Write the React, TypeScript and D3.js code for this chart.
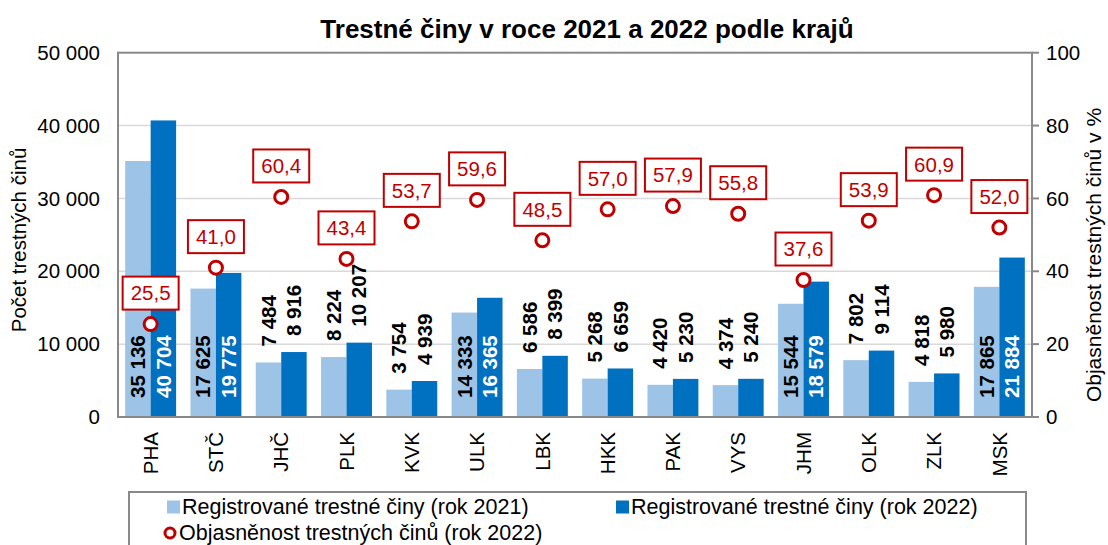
import React, { useEffect, useRef } from 'react'
import * as d3 from 'd3'

const regions = ['PHA', 'STČ', 'JHČ', 'PLK', 'KVK', 'ULK', 'LBK', 'HKK', 'PAK', 'VYS', 'JHM', 'OLK', 'ZLK', 'MSK']
const crimes2021 = [35136, 17625, 7484, 8224, 3754, 14333, 6586, 5268, 4420, 4374, 15544, 7802, 4818, 17865]
const crimes2022 = [40704, 19775, 8916, 10207, 4939, 16365, 8399, 6659, 5230, 5240, 18579, 9114, 5980, 21884]
const clearance2022 = [25.5, 41.0, 60.4, 43.4, 53.7, 59.6, 48.5, 57.0, 57.9, 55.8, 37.6, 53.9, 60.9, 52.0]
const leftTicks = [0, 10000, 20000, 30000, 40000, 50000]
const rightTicks = [0, 20, 40, 60, 80, 100]

const W = 1108
const H = 545
const FONT = '"Liberation Sans", Arial, sans-serif'
const LIGHT = '#9DC3E6'
const DARK = '#0070C0'
const RED = '#C00000'

const cz = d3.formatLocale({ decimal: ',', thousands: ' ', grouping: [3], currency: ['', ''] })
const fmtInt = cz.format(',d')
const fmtPct = cz.format('.1f')

function App() {
  const ref = useRef<SVGSVGElement>(null)

  useEffect(() => {
    const svg = d3.select(ref.current)
    svg.selectAll('*').remove()

    const left = 118, right = 1032, top = 52.7, bottom = 417

    const x = d3.scaleBand<string>().domain(regions).range([left, right]).paddingInner(0.22).paddingOuter(0.11)
    const x1 = d3.scaleBand<string>().domain(['2021', '2022']).range([0, x.bandwidth()])
    const y = d3.scaleLinear().domain([0, 50000]).range([bottom, top])
    const y2 = d3.scaleLinear().domain([0, 100]).range([bottom, top])

    // title
    svg.append('text')
      .attr('x', 587).attr('y', 38)
      .attr('text-anchor', 'middle')
      .attr('font-size', 26).attr('font-weight', 'bold')
      .text('Trestné činy v roce 2021 a 2022 podle krajů')

    // gridlines
    svg.append('g').selectAll('line')
      .data(leftTicks.slice(1, -1)).enter().append('line')
      .attr('x1', left).attr('x2', right)
      .attr('y1', d => y(d)).attr('y2', d => y(d))
      .attr('stroke', '#D9D9D9').attr('stroke-width', 1.5)

    // bars
    const series = [
      { key: '2021', values: crimes2021, fill: LIGHT, inside: 'black' },
      { key: '2022', values: crimes2022, fill: DARK, inside: 'white' },
    ]
    series.forEach(s => {
      const g = svg.append('g')
      g.selectAll('rect')
        .data(s.values).enter().append('rect')
        .attr('x', (d, i) => x(regions[i])! + x1(s.key)!)
        .attr('y', d => y(d))
        .attr('width', x1.bandwidth())
        .attr('height', d => bottom - y(d))
        .attr('fill', s.fill)
    })

    // frame
    svg.append('rect')
      .attr('x', left).attr('y', top)
      .attr('width', right - left).attr('height', bottom - top)
      .attr('fill', 'none').attr('stroke', '#898989').attr('stroke-width', 2)

    // right axis tick marks
    svg.append('g').selectAll('line')
      .data(rightTicks).enter().append('line')
      .attr('x1', right).attr('x2', right + 7)
      .attr('y1', d => y2(d)).attr('y2', d => y2(d))
      .attr('stroke', '#898989').attr('stroke-width', 2)

    // bar labels
    series.forEach(s => {
      svg.append('g').selectAll('text')
        .data(s.values).enter().append('text')
        .attr('transform', (d, i) => {
          const cx = x(regions[i])! + x1(s.key)! + x1.bandwidth() / 2
          const inside = crimes2021[i] > 12000
          const cy = inside ? bottom - 19 : y(d) - 16
          return `translate(${cx},${cy}) rotate(-90)`
        })
        .attr('dy', '0.35em')
        .attr('font-size', 20.5).attr('font-weight', 'bold')
        .attr('fill', (d, i) => crimes2021[i] > 12000 ? s.inside : 'black')
        .text(d => fmtInt(d))
    })

    // clearance markers + boxed labels
    const pts = svg.append('g')
    clearance2022.forEach((v, i) => {
      const cx = x(regions[i])! + x.bandwidth() / 2
      const cy = y2(v)
      const label = fmtPct(v)
      const bw = 56, bh = 33
      pts.append('rect')
        .attr('x', cx - bw / 2).attr('y', cy - 31 - bh / 2)
        .attr('width', bw).attr('height', bh)
        .attr('fill', 'white').attr('stroke', RED).attr('stroke-width', 2)
      pts.append('text')
        .attr('x', cx).attr('y', cy - 31)
        .attr('dy', '0.36em').attr('text-anchor', 'middle')
        .attr('font-size', 20.5).attr('fill', RED)
        .text(label)
      pts.append('circle')
        .attr('cx', cx).attr('cy', cy).attr('r', 6.5)
        .attr('fill', 'white').attr('stroke', RED).attr('stroke-width', 3)
    })

    // left tick labels
    svg.append('g').selectAll('text')
      .data(leftTicks).enter().append('text')
      .attr('x', 100).attr('y', d => y(d))
      .attr('dy', '0.35em').attr('text-anchor', 'end')
      .attr('font-size', 20.5)
      .text(d => fmtInt(d))

    // right tick labels
    svg.append('g').selectAll('text')
      .data(rightTicks).enter().append('text')
      .attr('x', 1046).attr('y', d => y2(d))
      .attr('dy', '0.35em').attr('text-anchor', 'start')
      .attr('font-size', 20.5)
      .text(d => d)

    // category labels
    svg.append('g').selectAll('text')
      .data(regions).enter().append('text')
      .attr('transform', d => `translate(${x(d)! + x.bandwidth() / 2},432) rotate(-90)`)
      .attr('dy', '0.35em').attr('text-anchor', 'end')
      .attr('font-size', 20.5)
      .text(d => d)

    // axis titles
    svg.append('text')
      .attr('transform', 'translate(19,240) rotate(-90)')
      .attr('dy', '0.35em').attr('text-anchor', 'middle')
      .attr('font-size', 20.5)
      .text('Počet trestných činů')
    svg.append('text')
      .attr('transform', 'translate(1094,255) rotate(-90)')
      .attr('dy', '0.35em').attr('text-anchor', 'middle')
      .attr('font-size', 21)
      .text('Objasněnost trestných činů v %')

    // legend
    const lg = svg.append('g')
    lg.append('rect')
      .attr('x', 129).attr('y', 492).attr('width', 897).attr('height', 70)
      .attr('fill', 'white').attr('stroke', '#898989').attr('stroke-width', 2)
    const items = [
      { label: 'Registrované trestné činy (rok 2021)', type: 'rect', color: LIGHT, x: 167, y: 507 },
      { label: 'Registrované trestné činy (rok 2022)', type: 'rect', color: DARK, x: 616, y: 507 },
      { label: 'Objasněnost trestných činů (rok 2022)', type: 'circle', color: RED, x: 164, y: 533 },
    ]
    items.forEach(it => {
      if (it.type === 'rect') {
        lg.append('rect').attr('x', it.x).attr('y', it.y - 6.5).attr('width', 13).attr('height', 13).attr('fill', it.color)
      } else {
        lg.append('circle').attr('cx', it.x + 6).attr('cy', it.y).attr('r', 5)
          .attr('fill', 'white').attr('stroke', it.color).attr('stroke-width', 3)
      }
      lg.append('text')
        .attr('x', it.x + 15).attr('y', it.y)
        .attr('dy', '0.33em').attr('font-size', 21.5)
        .text(it.label)
    })
  }, [])

  return (
    <svg ref={ref} width={W} height={H}
      style={{ position: 'absolute', left: 0, top: 0, background: 'white', fontFamily: FONT }} />
  )
}

export default App
